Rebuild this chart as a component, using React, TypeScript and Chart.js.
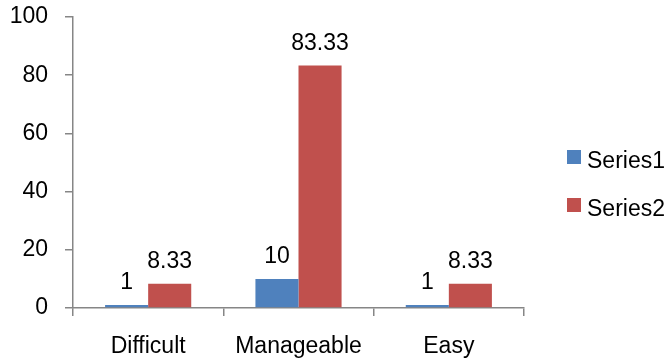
import React, { useEffect, useRef } from "react";
import { Chart, registerables } from "chart.js";

Chart.register(...registerables);

const categories = ["Difficult", "Manageable", "Easy"];
const series1 = [1, 10, 1];
const series2 = [8.33, 83.33, 8.33];
const seriesNames = ["Series1", "Series2"];
const seriesColors = ["#4F81BD", "#C0504D"];

const FONT = "'Liberation Sans', Arial, sans-serif";
const FS = 23;
const AXIS = "#868686";

const labelPlugin = {
  id: "valueLabels",
  afterDatasetsDraw(chart: any) {
    const ctx = chart.ctx;
    ctx.save();
    ctx.font = `${FS}px ${FONT}`;
    ctx.fillStyle = "#000";
    ctx.textAlign = "center";
    ctx.textBaseline = "alphabetic";
    chart.data.datasets.forEach((ds: any, di: number) => {
      const meta = chart.getDatasetMeta(di);
      meta.data.forEach((bar: any, i: number) => {
        ctx.fillText(String(ds.data[i]), bar.x, bar.y - 16);
      });
    });
    ctx.restore();
  },
};

const legendPlugin = {
  id: "customLegend",
  afterDraw(chart: any) {
    const ctx = chart.ctx;
    ctx.save();
    ctx.font = `${FS}px ${FONT}`;
    ctx.textAlign = "left";
    ctx.textBaseline = "alphabetic";
    chart.data.datasets.forEach((ds: any, i: number) => {
      const top = 150 + i * 48;
      ctx.fillStyle = ds.backgroundColor;
      ctx.fillRect(567, top, 14, 14);
      ctx.fillStyle = "#000";
      ctx.fillText(ds.label, 587, top + 18);
    });
    ctx.restore();
  },
};

export default function App() {
  const ref = useRef<HTMLCanvasElement>(null);
  useEffect(() => {
    if (!ref.current) return;
    const chart = new Chart(ref.current, {
      type: "bar",
      data: {
        labels: categories,
        datasets: [
          { label: seriesNames[0], data: series1, backgroundColor: seriesColors[0] },
          { label: seriesNames[1], data: series2, backgroundColor: seriesColors[1] },
        ],
      },
      options: {
        responsive: false,
        animation: false,
        layout: { padding: { left: 0, right: 141, top: 17, bottom: 0 } },
        datasets: { bar: { categoryPercentage: 0.573, barPercentage: 1 } },
        plugins: { legend: { display: false }, tooltip: { enabled: false } },
        scales: {
          x: {
            afterFit: (s: any) => { s.height = 52; s.paddingLeft = 0; s.paddingRight = 0; },
            grid: { drawOnChartArea: false, drawTicks: true, tickLength: 8, color: AXIS, lineWidth: 1.5, offset: true },
            border: { display: true, color: AXIS, width: 1.5 },
            ticks: { color: "#000", font: { family: FONT, size: FS }, padding: 17, maxRotation: 0 },
          },
          y: {
            min: 0,
            max: 100,
            afterFit: (s: any) => { s.width = 73; s.paddingTop = 0; s.paddingBottom = 0; },
            grid: { drawOnChartArea: false, drawTicks: true, tickLength: 8, color: AXIS, lineWidth: 1.5 },
            border: { display: true, color: AXIS, width: 1.5 },
            ticks: { stepSize: 20, color: "#000", font: { family: FONT, size: FS }, padding: 17 },
          },
        },
      },
      plugins: [labelPlugin, legendPlugin],
    } as any);
    return () => chart.destroy();
  }, []);
  return (
    <div style={{ position: "absolute", left: 0, top: 0, width: 665, height: 360, background: "#fff" }}>
      <canvas ref={ref} width={665} height={360} style={{ display: "block" }} />
    </div>
  );
}
